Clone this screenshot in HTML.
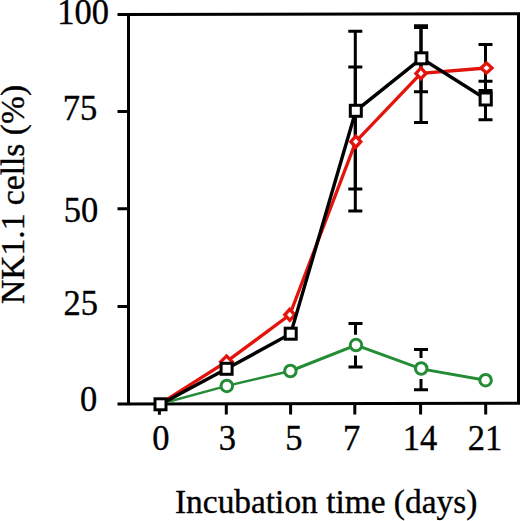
<!DOCTYPE html>
<html><head><meta charset="utf-8"><style>
html,body{margin:0;padding:0;background:#fff;width:520px;height:521px;overflow:hidden}
svg{position:absolute;left:0;top:0}
text{font-family:"Liberation Serif",serif;fill:#000;stroke:#000;stroke-width:0.35px}
</style></head><body>
<svg width="520" height="521" viewBox="0 0 520 521">
<!-- frame -->
<g stroke="#000" stroke-width="3" fill="none">
<path d="M117.5 14.6 L518.5 13.8 L518.5 403.3 L117.5 404.1"/>
<path d="M128.5 14.5 V404"/>
<path d="M117.5 111.5 H128.5 M117.5 208.8 H128.5 M117.5 306.5 H128.5"/>
<path d="M159.4 404 V414.8 M226.3 404 V414.6 M290.6 404 V414.6 M354.8 404 V414.6 M420.6 404 V414.6 M485.7 404 V414.6"/>
</g>
<!-- y labels -->
<g font-size="34.5">
<text transform="translate(57.2,23.8) scale(1,1.06)">100</text>
<text transform="translate(62.8,119.5) scale(1,1.06)">75</text>
<text transform="translate(63.7,222) scale(1,1.06)">50</text>
<text transform="translate(63.6,315) scale(1,1.06)">25</text>
<text transform="translate(79.9,411) scale(1,1.06)">0</text>
</g>
<!-- x labels -->
<g font-size="34.5" text-anchor="middle">
<text transform="translate(160.9,450) scale(1,1.06)">0</text>
<text transform="translate(227.5,450) scale(1,1.06)">3</text>
<text transform="translate(293.8,450) scale(1,1.06)">5</text>
<text transform="translate(351.6,450) scale(1,1.06)">7</text>
<text transform="translate(419.9,450) scale(1,1.06)">14</text>
<text transform="translate(485,450) scale(1,1.06)">21</text>
</g>
<text x="175" y="512.5" font-size="33.4">Incubation time (days)</text>
<text transform="translate(24,304) rotate(-90)" font-size="33.6">NK1.1 cells (%)</text>
<!-- error bars -->
<g stroke="#000" stroke-width="3" fill="none">
<path d="M355.3 31.2 V189 M348.3 31.2 H362.3 M348.3 189 H362.3"/>
<path d="M355.3 67.1 V211 M348.3 67.1 H362.3 M348.3 211 H362.3"/>
<path d="M421 25.8 V91.7 M414 25.8 H428 M414 91.7 H428"/>
<path d="M421 27.6 V122.4 M414 27.6 H428 M414 122.4 H428"/>
<path d="M485.5 44.5 V90.5 M478.5 44.5 H492.5 M478.5 90.5 H492.5"/>
<path d="M485.5 81.3 V119.7 M478.5 81.3 H492.5 M478.5 119.7 H492.5"/>
<path d="M355.5 323.5 V334.7 M355.5 355.5 V367 M348.5 323.5 H362.5 M348.5 367 H362.5"/>
<path d="M421 349.6 V358.1 M421 378.9 V389.7 M414 349.6 H428 M414 389.7 H428"/>
</g>
<!-- green series -->
<g stroke="#248c34" stroke-width="3" fill="none">
<polyline stroke-width="2.5" points="160,404 226.8,385.9 290.4,371"/>
<polyline points="290.4,371 356,345.1 421.2,368.9 485.6,380.2"/>
<g fill="#fff">
<circle cx="226.8" cy="385.9" r="5.75"/>
<circle cx="290.4" cy="371" r="5.75"/>
<circle cx="356" cy="345.1" r="5.75"/>
<circle cx="421.2" cy="368.5" r="5.75"/>
<circle cx="485.6" cy="380.2" r="5.75"/>
</g>
</g>
<!-- red series -->
<g stroke="#e3140c" stroke-width="3.3" fill="none">
<polyline points="160,404 226.5,361.7 289.8,314.8 355.8,141.7 420.9,73.4 486.3,68"/>
<g fill="#fff">
<path d="M226.5 356 L232.2 361.7 L226.5 367.4 L220.8 361.7 Z"/>
<path d="M289.8 309.3 L294.8 314.8 L289.8 320.3 L284.8 314.8 Z"/>
<path d="M355.8 136.2 L360.8 141.7 L355.8 147.2 L350.8 141.7 Z"/>
<path d="M420.9 67.9 L425.9 73.4 L420.9 78.9 L415.9 73.4 Z"/>
<path d="M486.5 63 L492 68 L486.5 73 L481 68 Z"/>
</g>
</g>
<!-- black series -->
<g stroke="#000" stroke-width="3" fill="none">
<polyline stroke-width="3.4" points="160.5,404.3 226.6,368.8 290.7,333.7 355.8,110.8 421.4,58.3 485.8,99"/>
<g fill="#fff">
<rect x="155" y="398.8" width="11" height="11"/>
<rect x="221.1" y="363.3" width="11" height="11"/>
<rect x="285.2" y="328.2" width="11" height="11"/>
<rect x="350.3" y="105.3" width="11" height="11"/>
<rect x="415.9" y="52.8" width="11" height="11"/>
<rect x="480.1" y="93" width="11.2" height="12"/>
</g>
</g>
</svg>
</body></html>
